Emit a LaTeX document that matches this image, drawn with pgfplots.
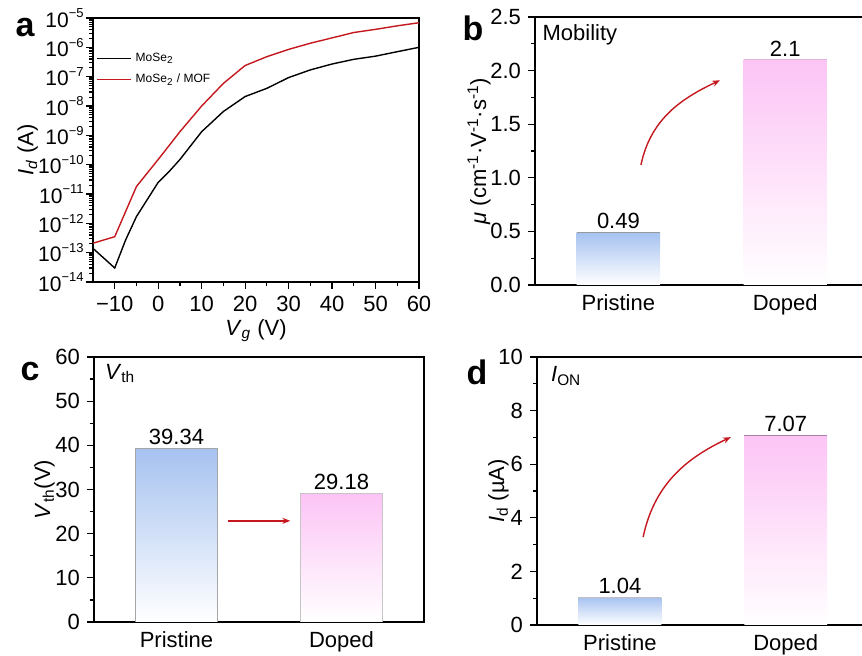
\documentclass[border=0pt]{standalone}
\usepackage{fontspec}
\setmainfont{Liberation Sans}
\usepackage{pgfplots}
\pgfplotsset{compat=1.18}
\usetikzlibrary{arrows.meta}
\definecolor{redc}{RGB}{196,24,30}
\definecolor{bluec}{RGB}{166,194,240}
\definecolor{pinkc}{RGB}{252,196,245}
\newcommand{\dec}[1]{10\raisebox{0.85ex}{\fontsize{6.5}{7}\selectfont #1}}
\pgfplotsset{
  /pgf/number format/assume math mode=true,
  every axis/.append style={
    font=\fontsize{11}{13}\selectfont,
    scale only axis, anchor=south west,
    tick align=outside, tick pos=left,
    axis line style={line width=0.8pt, black},
    every tick/.append style={black, line width=0.6pt},
    major tick length=3.5pt, minor tick length=2pt,
  },
  barax/.style={
    xmin=-0.5, xtick={0,1}, xticklabels={Pristine,Doped},
    xtick style={draw=none}, ymin=0,
    xticklabel style={yshift=2pt},
  },
}
\begin{document}
\begin{tikzpicture}
\useasboundingbox (0,0) rectangle (431pt,328pt);
% ---------------- panel a
\begin{axis}[
  at={(46.5pt,187pt)}, width=163pt, height=132pt,
  ymode=log, xmin=-15, xmax=60, ymin=1e-14, ymax=1e-5,
  xtick={-10,0,10,20,30,40,50,60},
  xticklabels={−10,0,10,20,30,40,50,60},
  minor x tick num=1,
  ytick={1e-14,1e-13,1e-12,1e-11,1e-10,1e-9,1e-8,1e-7,1e-6,1e-5},
  yticklabels={\dec{−14},\dec{−13},\dec{−12},\dec{−11},\dec{−10},\dec{−9},\dec{−8},\dec{−7},\dec{−6},\dec{−5}},
  yticklabel style={font=\fontsize{10.5}{12}\selectfont, inner sep=1pt},
  xlabel={\textit{V}\textsubscript{\textit{g}} (V)},
  ylabel={\textit{I}\textsubscript{\textit{d}} (A)},
  xlabel style={yshift=3pt},
  every axis y label/.style={at={(rel axis cs:-0.2,0.5)}, rotate=90, anchor=center},
  legend style={draw=none, fill=none, at={(rel axis cs:0.01,0.885)}, anchor=north west,
    font=\fontsize{6}{7}\selectfont, row sep=1pt, inner sep=0pt,
    /tikz/every even column/.append style={column sep=1pt}},
  legend cell align=left,
  legend image code/.code={\draw[#1, line width=0.5pt] (0pt,0pt) -- (17pt,0pt);},
]
\addplot[black, line width=0.7pt] coordinates {
(-15,1.4e-13) (-10,3.0e-14) (-7.5,2.7e-13) (-5,1.7e-12) (0,2.5e-11) (2.5,5.8e-11)
(5,1.5e-10) (10,1.33e-9) (15,6.5e-9) (20,2.1e-8) (25,4.0e-8) (30,9.3e-8)
(35,1.7e-7) (40,2.7e-7) (45,3.9e-7) (50,5.0e-7) (55,7.1e-7) (60,1.0e-6)};
\addlegendentry{MoSe\textsubscript{2}}
\addplot[redc, line width=0.7pt] coordinates {
(-15,2.1e-13) (-10,3.5e-13) (-5,1.8e-11) (0,1.5e-10) (5,1.33e-9) (10,1.0e-8)
(15,5.9e-8) (20,2.4e-7) (25,4.8e-7) (30,8.5e-7) (35,1.38e-6) (40,2.1e-6)
(45,3.2e-6) (50,4.1e-6) (55,5.4e-6) (60,6.9e-6)};
\addlegendentry{MoSe\textsubscript{2} / MOF}
\end{axis}
% ---------------- panel b
\begin{axis}[
  at={(267.5pt,185.5pt)}, width=163.5pt, height=134pt, barax,
  xmax=1.46, ymax=2.5,
  axis x line*=box, axis y line*=left,
  ytick={0,0.5,1,1.5,2,2.5},
  yticklabels={0.0,0.5,1.0,1.5,2.0,2.5},
  minor y tick num=1,
  ylabel={\textit{μ} (cm\textsuperscript{-1}·V\textsuperscript{-1}·s\textsuperscript{-1})},
  ylabel style={yshift=-7pt},
]
\addplot[ybar, bar width=0.5, bar shift=0pt, draw=none, top color=bluec, bottom color=white] coordinates {(0,0.49)};
\addplot[ybar, bar width=0.5, bar shift=0pt, draw=none, top color=pinkc, middle color=pinkc!65, bottom color=white] coordinates {(1,2.1)};
\draw[gray!80, line width=0.5pt] (axis cs:-0.25,0.49) -- (axis cs:0.25,0.49);
\draw[pinkc!80!gray, line width=0.4pt] (axis cs:0.75,2.1) -- (axis cs:1.25,2.1);
\node[anchor=south, inner sep=1.5pt] at (axis cs:0,0.49) {0.49};
\node[anchor=south, inner sep=1.5pt] at (axis cs:1,2.1) {2.1};
\node[anchor=north west, inner sep=2pt] at (rel axis cs:0.01,0.99) {Mobility};
\draw[-{Stealth[length=4pt,width=3pt]}, redc, line width=0.7pt] (axis cs:0.135,1.12) to[out=78,in=205] (axis cs:0.61,1.91);
\end{axis}
% ---------------- panel c
\begin{axis}[
  at={(47pt,17pt)}, width=165pt, height=132.5pt, barax,
  xmax=1.5, ymax=60,
  ytick={0,10,20,30,40,50,60},
  minor y tick num=1,
  ylabel={\textit{V}\textsubscript{th}(V)},
  ylabel style={yshift=-6.5pt},
]
\addplot[ybar, bar width=0.5, bar shift=0pt, draw=gray!70, line width=0.4pt, top color=bluec, bottom color=white] coordinates {(0,39.34)};
\addplot[ybar, bar width=0.5, bar shift=0pt, draw=gray!45, line width=0.4pt, top color=pinkc, bottom color=white] coordinates {(1,29.18)};
\node[anchor=south, inner sep=1.5pt] at (axis cs:0,39.34) {39.34};
\node[anchor=south, inner sep=1.5pt] at (axis cs:1,29.18) {29.18};
\node[anchor=north west, inner sep=2pt] at (rel axis cs:0.02,0.99) {\textit{V}\textsubscript{th}};
\draw[-{Stealth[length=4pt,width=3pt]}, redc, line width=0.7pt] (axis cs:0.31,22.9) -- (axis cs:0.69,22.9);
\end{axis}
% ---------------- panel d
\begin{axis}[
  at={(268.5pt,15.5pt)}, width=162.5pt, height=134pt, barax,
  xmax=1.46, ymax=10,
  axis x line*=box, axis y line*=left,
  ytick={0,2,4,6,8,10},
  minor y tick num=1,
  ylabel={\textit{I}\textsubscript{d} (µA)},
  ylabel style={yshift=-12pt},
]
\addplot[ybar, bar width=0.5, bar shift=0pt, draw=none, top color=bluec, bottom color=white] coordinates {(0,1.04)};
\addplot[ybar, bar width=0.5, bar shift=0pt, draw=none, top color=pinkc, middle color=pinkc!60, bottom color=white] coordinates {(1,7.07)};
\draw[gray!50, line width=0.4pt] (axis cs:-0.25,1.04) -- (axis cs:0.25,1.04);
\draw[violet!40!gray!70, line width=0.6pt] (axis cs:0.75,7.07) -- (axis cs:1.25,7.07);
\node[anchor=south, inner sep=1.5pt] at (axis cs:0,1.04) {1.04};
\node[anchor=south, inner sep=1.5pt] at (axis cs:1,7.07) {7.07};
\node[anchor=north west, inner sep=2pt] at (rel axis cs:0.03,0.98) {\textit{I}\textsubscript{ON}};
\draw[-{Stealth[length=4pt,width=3pt]}, redc, line width=0.7pt] (axis cs:0.14,3.28) to[out=78,in=205] (axis cs:0.67,7.01);
\end{axis}
% ---------------- panel letters
\node[font=\fontsize{17}{20}\selectfont\bfseries] at (12.5pt,314pt) {a};
\node[font=\fontsize{17}{20}\selectfont\bfseries] at (236.5pt,314pt) {b};
\node[font=\fontsize{17}{20}\selectfont\bfseries] at (15pt,142pt) {c};
\node[font=\fontsize{17}{20}\selectfont\bfseries] at (238.5pt,142pt) {d};
\end{tikzpicture}
\end{document}
